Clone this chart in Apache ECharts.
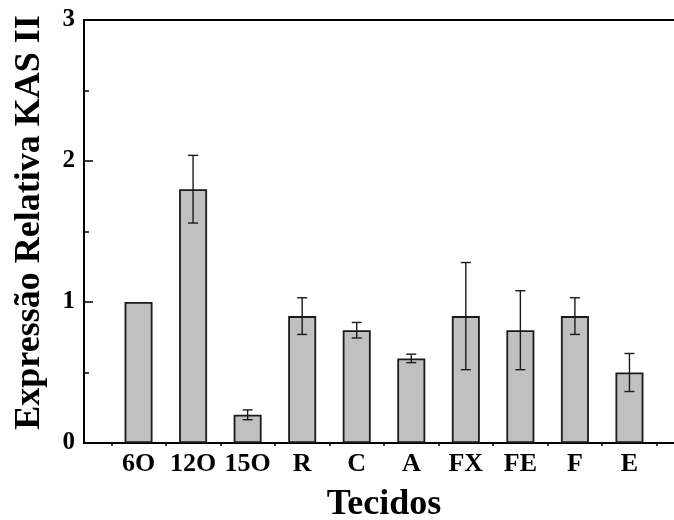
<!DOCTYPE html>
<html>
<head>
<meta charset="utf-8">
<script src="https://cdn.jsdelivr.net/npm/echarts@6/dist/echarts.min.js"></script>
<style>
  html, body { margin: 0; padding: 0; background: #fff; }
  #chart { width: 674px; height: 520px; }
</style>
</head>
<body>
<div id="chart"></div>
<script>
// 数据
const tecidos = ['6O', '12O', '15O', 'R', 'C', 'A', 'FX', 'FE', 'F', 'E'];
const expressao = [1.0, 1.8, 0.2, 0.9, 0.8, 0.6, 0.9, 0.8, 0.9, 0.5];
const erro = [0, 0.24, 0.035, 0.13, 0.055, 0.03, 0.38, 0.28, 0.13, 0.135];

const FONT = '"Liberation Serif", "Times New Roman", serif';

const barData = expressao.map((v, i) => [i, v]);
const errData = [];
expressao.forEach((v, i) => {
  if (erro[i] > 0) errData.push([i, v - erro[i], v + erro[i]]);
});

const chart = echarts.init(document.getElementById('chart'));

// 误差线
function renderErr(params, api) {
  const x = api.value(0);
  const lo = api.coord([x, api.value(1)]);
  const hi = api.coord([x, api.value(2)]);
  const half = 5;
  const style = { stroke: '#1a1a1a', lineWidth: 1.4 };
  return {
    type: 'group',
    children: [
      { type: 'line', shape: { x1: hi[0], y1: hi[1], x2: lo[0], y2: lo[1] }, style: style },
      { type: 'line', shape: { x1: hi[0] - half, y1: hi[1], x2: hi[0] + half, y2: hi[1] }, style: style },
      { type: 'line', shape: { x1: lo[0] - half, y1: lo[1], x2: lo[0] + half, y2: lo[1] }, style: style }
    ]
  };
}

const option = {
  backgroundColor: '#fff',
  animation: false,
  grid: {
    left: 84, top: 20, width: 600, height: 423,
    outerBoundsMode: 'none',
    containLabel: false,
    show: true, borderColor: '#000', borderWidth: 2
  },
  xAxis: [
    {
      type: 'value', min: -1, max: 10, interval: 1, position: 'bottom',
      axisLine: { show: true, onZero: false, lineStyle: { color: '#000', width: 2 } },
      axisTick: { show: true, inside: true, length: 9, lineStyle: { color: '#000', width: 1.5 } },
      splitLine: { show: false },
      axisLabel: {
        margin: 8,
        color: '#000', fontFamily: FONT, fontWeight: 'bold', fontSize: 26,
        formatter: v => tecidos[v] || ''
      },
      name: 'Tecidos', nameLocation: 'middle', nameGap: 44,
      nameTextStyle: { color: '#000', fontFamily: FONT, fontWeight: 'bold', fontSize: 36 }
    },
    {
      type: 'value', min: -1, max: 10, interval: 1, position: 'bottom',
      axisLine: { show: false, onZero: false },
      axisTick: { show: false, inside: false },
      minorTick: { show: true, splitNumber: 2, length: 3, lineStyle: { color: '#000', width: 1.5 } },
      splitLine: { show: false },
      axisLabel: { show: false }
    }
  ],
  yAxis: {
    type: 'value', min: 0, max: 3, interval: 1,
    axisLine: { show: true, onZero: false, lineStyle: { color: '#000', width: 2 } },
    axisTick: { show: true, inside: true, length: 9, lineStyle: { color: '#000', width: 1.5 } },
    minorTick: { show: true, splitNumber: 2, length: 5, lineStyle: { color: '#000', width: 1.5 } },
    splitLine: { show: false },
    axisLabel: { margin: 9, color: '#000', fontFamily: FONT, fontWeight: 'bold', fontSize: 25 },
    name: 'Expressão Relativa KAS II', nameLocation: 'middle', nameGap: 36, nameRotate: 90,
    nameTextStyle: {
      color: '#000', fontFamily: FONT, fontWeight: 'bold', fontSize: 36,
      padding: [0, 0, 0, 18]
    }
  },
  series: [
    {
      type: 'bar', xAxisIndex: 0, data: barData, barWidth: 28,
      itemStyle: { color: '#c0c0c0', borderColor: '#1a1a1a', borderWidth: 1.8 },
      z: 1
    },
    {
      type: 'custom', xAxisIndex: 0, data: errData, renderItem: renderErr,
      encode: { x: 0, y: [1, 2] }, z: 3
    }
  ]
};

chart.setOption(option);
</script>
</body>
</html>
